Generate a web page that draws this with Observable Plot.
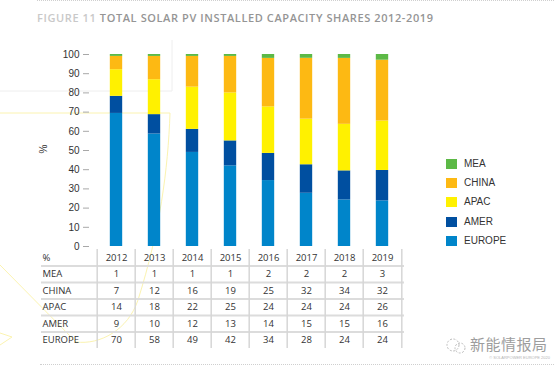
<!DOCTYPE html>
<html>
<head>
<meta charset="utf-8">
<script src="https://cdn.jsdelivr.net/npm/d3@7"></script>
<script src="https://cdn.jsdelivr.net/npm/@observablehq/plot@0.6"></script>
<style>
  html, body { margin: 0; padding: 0; background: #fff; }
  #wrap { position: relative; width: 554px; height: 367px; overflow: hidden; font-family: "Liberation Sans", Arial, sans-serif; }
  .abs { position: absolute; }
  #title { left: 37px; top: 11px; font-family: "Open Sans", sans-serif; font-weight: 600; font-size: 11px; line-height: 14px; letter-spacing: 0.6px; color: #959595; white-space: nowrap; }
  #title .fig { color: #c9c9c9; }
  #legend .item { position: absolute; left: 446px; height: 11px; font-size: 10px; color: #333; }
  #legend .sw { position: absolute; left: 0; top: 0; width: 11px; height: 10px; }
  #legend .lab { position: absolute; left: 18px; top: -1px; line-height: 12px; white-space: nowrap; }
  #topline { left: 37px; top: 0px; width: 517px; border-top: 1px dotted #cfcfcf; }
  #botline { left: 40px; top: 364px; width: 514px; border-top: 1px dotted #cfcfcf; }
  #wm { left: 470px; top: 334px; font-family: "Noto Sans CJK SC", sans-serif; font-size: 15px; line-height: 20px; color: #9d9d9d; letter-spacing: 0.5px; white-space: nowrap; }
  #copy { right: 4px; top: 355px; font-size: 4px; line-height: 5px; color: #b5b5b5; white-space: nowrap; }
</style>
</head>
<body>
<div id="wrap">
  <svg class="abs" style="left:0;top:0" width="554" height="367">
    <path d="M0,113 H170" stroke="#fbf3b0" fill="none" stroke-width="1"/>
    <path d="M0,91 H172 V40" stroke="#eeeeee" fill="none" stroke-width="1"/>
    <path d="M170,113 C168,170 160,230 138,300 C128,330 100,345 76,342" stroke="#fbf3b0" fill="none" stroke-width="1"/>
    <path d="M0,265 L76,342" stroke="#fbf3b0" fill="none" stroke-width="1"/>
    <path d="M0,333 L12,337 L0,345" stroke="#fbf3b0" fill="none" stroke-width="1"/>
  </svg>
  <div id="topline" class="abs"></div>
  <div id="title" class="abs"><span class="fig">FIGURE 11</span> TOTAL SOLAR PV INSTALLED CAPACITY SHARES 2012-2019</div>
  <div id="chart" class="abs" style="left:0;top:40px"></div>
  <div id="table" class="abs" style="left:0;top:249px"></div>
  <div id="legend"></div>
  <svg class="abs" style="left:445px;top:336px" width="24" height="20">
    <circle cx="8" cy="9" r="6" fill="none" stroke="#bdbdbd" stroke-width="1" stroke-dasharray="2,1.5"/>
    <circle cx="15" cy="12" r="5" fill="none" stroke="#bdbdbd" stroke-width="1" stroke-dasharray="2,1.5"/>
  </svg>
  <div id="wm" class="abs">新能情报局</div>
  <div id="copy" class="abs">© SOLARPOWER EUROPE 2020</div>
  <div id="botline" class="abs"></div>
</div>
<script>
// ---- data ----
const years = ["2012", "2013", "2014", "2015", "2016", "2017", "2018", "2019"];
const regions = ["EUROPE", "AMER", "APAC", "CHINA", "MEA"]; // stack order, bottom to top
const europe = [70, 58, 49, 42, 34, 28, 24, 24];
const amer   = [9, 10, 12, 13, 14, 15, 15, 16];
const apac   = [14, 18, 22, 25, 24, 24, 24, 26];
const china  = [7, 12, 16, 19, 25, 32, 34, 32];
const mea    = [1, 1, 1, 1, 2, 2, 2, 3];
const yTicks = [0, 10, 20, 30, 40, 50, 60, 70, 80, 90, 100];
const colors = ["#0085ca", "#004fa0", "#fff100", "#fdb913", "#5cb946"];

const series = {EUROPE: europe, AMER: amer, APAC: apac, CHINA: china, MEA: mea};
const records = regions.flatMap(r => years.map((y, i) => ({year: y, region: r, value: series[r][i]})));

const X0 = 94, X1 = 403;
const step = (X1 - X0) / years.length;
const barW = 13;

// ---- stacked bar chart (shares normalised to 100 %) ----
const chart = Plot.plot({
  width: 554,
  height: 212,
  marginLeft: 89,
  marginRight: 151,
  marginTop: 14,
  marginBottom: 6,
  style: {fontFamily: "'Liberation Sans', Arial, sans-serif", fontSize: "10px", color: "#333", background: "transparent"},
  x: {type: "band", domain: years, range: [X0, X1], padding: 0, axis: null},
  y: {percent: true, domain: [0, 100], range: [206, 14], axis: null},
  color: {domain: regions, range: colors},
  marks: [
    Plot.barY(records, Plot.stackY({
      x: "year", y: "value", fill: "region", order: regions, offset: "normalize",
      insetLeft: (step - barW) / 2, insetRight: (step - barW) / 2
    })),
    // percent scale: tick values are given as fractions so they land on 0…100
    Plot.axisY(yTicks.map(t => t / 100), {
      anchor: "left", tickSize: 6, tickPadding: 4, stroke: "#a8a8a8", fill: "#333", fontSize: 10, label: null,
      tickFormat: d => String(Math.round(d * 100))
    }),
    Plot.text(["%"], {frameAnchor: "left", dx: -46, dy: 3, rotate: -90, fill: "#333", fontSize: 10})
  ]
});
document.getElementById("chart").appendChild(chart);

// ---- data table ----
const rowLabels = ["%"].concat(regions.slice().reverse()); // %, MEA, CHINA, APAC, AMER, EUROPE
const cells = [];
years.forEach((y, i) => cells.push({year: y, row: 0, text: y}));
regions.slice().reverse().forEach((r, k) => {
  years.forEach((y, i) => cells.push({year: y, row: k + 1, text: String(series[r][i])}));
});

const table = Plot.plot({
  width: 554,
  height: 100,
  marginLeft: 41,
  marginRight: 150,
  marginTop: 0,
  marginBottom: 1,
  style: {fontFamily: "'Open Sans', sans-serif", fontSize: "9.5px", color: "#333", background: "transparent"},
  x: {type: "band", domain: years, range: [X0, X1], padding: 0, axis: null},
  y: {domain: [0, 6], range: [0, 99], axis: null},
  marks: [
    Plot.ruleY([1, 2, 3, 4, 5], {stroke: "#dcdcdc", strokeWidth: 2}),
    Plot.ruleX(years, {x: d => d, y1: 0, y2: 6, dx: -step / 2, stroke: "#d6d6d6", strokeWidth: 1.5}),
    Plot.ruleX([years[years.length - 1]], {x: d => d, y1: 0, y2: 6, dx: step / 2, stroke: "#d6d6d6", strokeWidth: 1.5}),
    Plot.text(cells, {x: "year", y: d => d.row + 0.5, text: "text", fill: "#333", fontSize: 9.5}),
    Plot.text(rowLabels, {y: (d, i) => i + 0.5, text: d => d, frameAnchor: "left", textAnchor: "start", dx: 1, fill: "#333", fontSize: 9.5})
  ]
});
document.getElementById("table").appendChild(table);

// ---- legend ----
const legend = document.getElementById("legend");
regions.slice().reverse().forEach((r, k) => {
  const item = document.createElement("div");
  item.className = "item";
  item.style.top = (159 + k * 19.2) + "px";
  const sw = document.createElement("div");
  sw.className = "sw";
  sw.style.background = colors[regions.indexOf(r)];
  const lab = document.createElement("div");
  lab.className = "lab";
  lab.textContent = r;
  item.appendChild(sw);
  item.appendChild(lab);
  legend.appendChild(item);
});
</script>
</body>
</html>
